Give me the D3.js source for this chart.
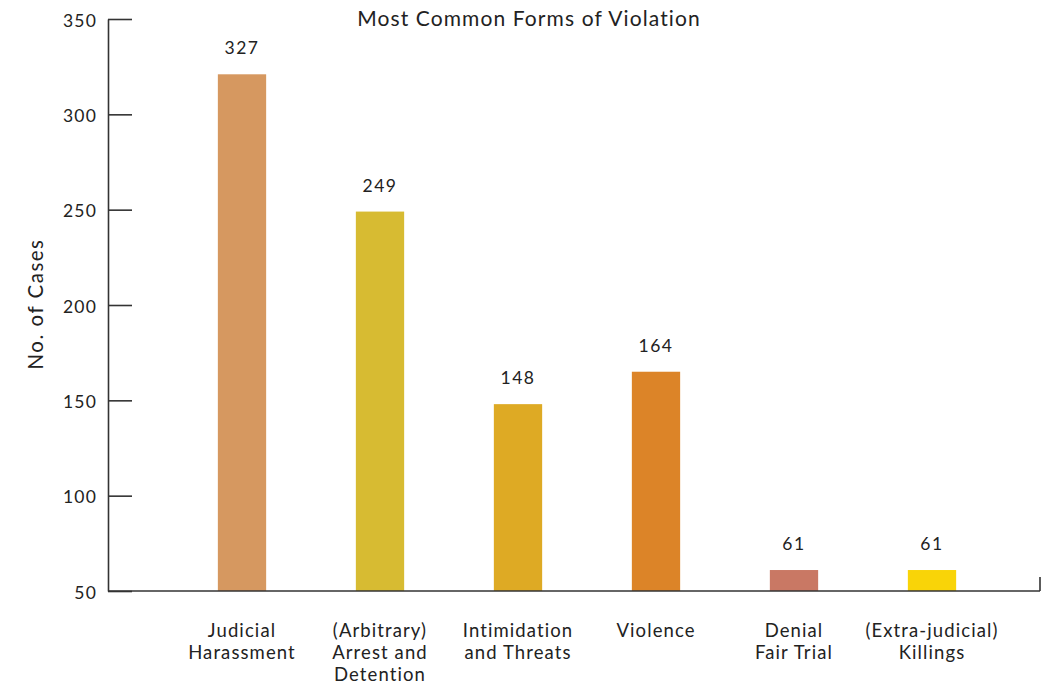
<!DOCTYPE html>
<html><head><meta charset="utf-8">
<script src="https://cdn.jsdelivr.net/npm/d3@7"></script>
<style>body{margin:0;background:#fff;} text{font-family:Lato, "Open Sans", sans-serif; fill:#222;}</style>
</head><body>
<svg id="chart" width="1049" height="687"></svg>
<script>
const categories = [["Judicial","Harassment"],["(Arbitrary)","Arrest and","Detention"],["Intimidation","and Threats"],["Violence"],["Denial","Fair Trial"],["(Extra-judicial)","Killings"]];
const values = [321, 249, 148, 165, 61, 61];
const valueLabels = ["327", "249", "148", "164", "61", "61"];
const colors = ["#D69860", "#D7BB32", "#DEAA24", "#DC8428", "#C97864", "#F9D408"];
const yTicks = [50, 100, 150, 200, 250, 300, 350];

const svg = d3.select("#chart");
const y = d3.scaleLinear().domain([50, 350]).range([591, 19]);
const x = d3.scaleBand().domain(d3.range(categories.length)).range([173, 1001]).paddingInner(0.65).paddingOuter(0.325);

// y axis
const yAxis = d3.axisLeft(y).tickValues(yTicks).tickSize(-24).tickPadding(11).tickSizeOuter(0);
const ga = svg.append("g").attr("transform","translate(108,0)").call(yAxis);
ga.select(".domain").attr("stroke","#333").attr("stroke-width",1.6);
ga.selectAll(".tick line").attr("stroke","#333").attr("stroke-width",1.6);
ga.selectAll(".tick text").attr("font-size",17.5).attr("letter-spacing","1.2px").attr("fill","#222").attr("dy","0.4em").attr("font-family","Lato, sans-serif");

// bars
svg.append("g").selectAll("rect").data(values).join("rect")
  .attr("x",(d,i)=>x(i)).attr("width",x.bandwidth())
  .attr("y",d=>y(d)).attr("height",d=>y(50)-y(d))
  .attr("fill",(d,i)=>colors[i]);

// x baseline
svg.append("line").attr("x1",108).attr("x2",1040).attr("y1",y(50)).attr("y2",y(50)).attr("stroke","#333").attr("stroke-width",1.6);
svg.append("line").attr("x1",1040).attr("x2",1040).attr("y1",y(50)).attr("y2",y(50)-14).attr("stroke","#333").attr("stroke-width",1.6);

// value labels
svg.append("g").selectAll("text").data(values).join("text")
  .attr("x",(d,i)=>x(i)+x.bandwidth()/2).attr("y",d=>y(d)-20)
  .attr("text-anchor","middle").attr("font-size",17.5).attr("letter-spacing","1.5px")
  .text((d,i)=>valueLabels[i]);

// category labels
const cg = svg.append("g").selectAll("text").data(categories).join("text")
  .attr("x",(d,i)=>x(i)+x.bandwidth()/2).attr("y",637)
  .attr("text-anchor","middle").attr("font-size",18.5).attr("letter-spacing","1.1px");
cg.selectAll("tspan").data(d=>d).join("tspan")
  .attr("x",function(){return this.parentNode.getAttribute("x");})
  .attr("dy",(d,j)=>j===0?0:22).text(d=>d);

// title
svg.append("text").attr("x",529).attr("y",26).attr("text-anchor","middle").attr("font-size",21).attr("letter-spacing","1.1px").text("Most Common Forms of Violation");

// y label
svg.append("text").attr("transform","translate(43,304) rotate(-90)").attr("text-anchor","middle").attr("font-size",20.5).attr("letter-spacing","1.5px").text("No. of Cases");
</script>
</body></html>
